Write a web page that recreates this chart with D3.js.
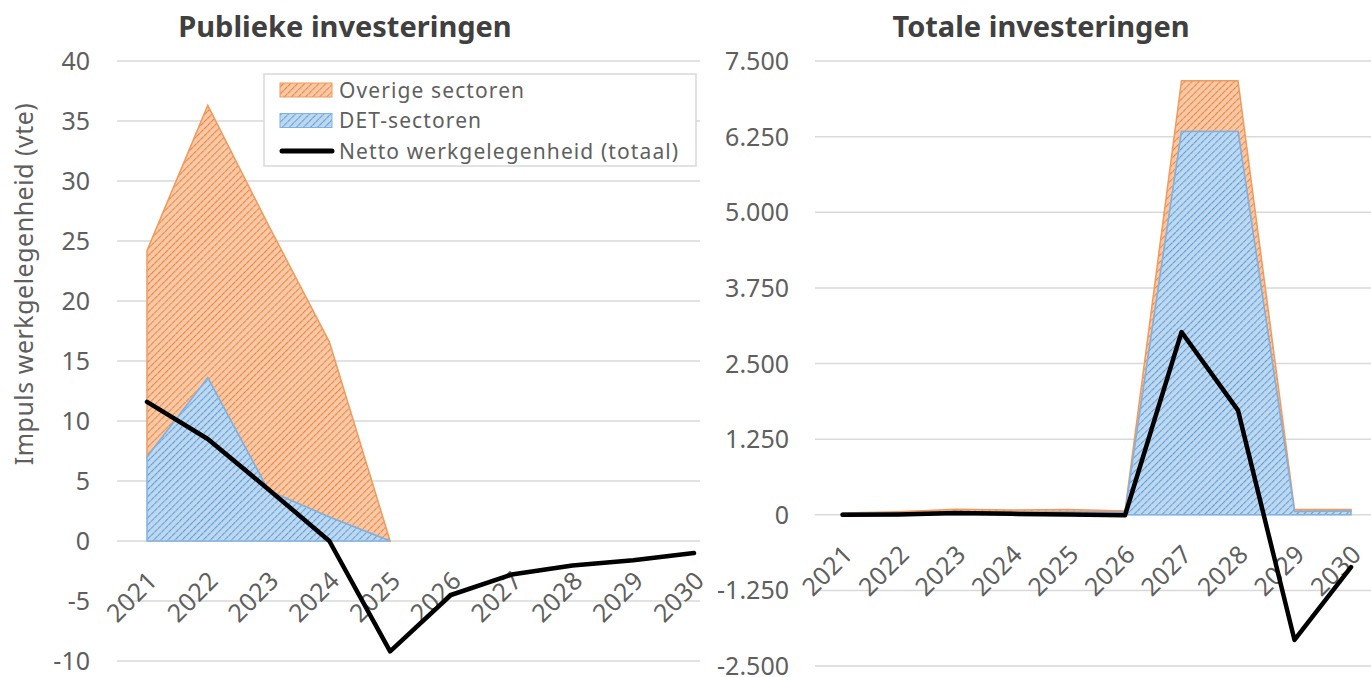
<!DOCTYPE html>
<html>
<head>
<meta charset="utf-8">
<script src="https://cdn.jsdelivr.net/npm/d3@7"></script>
<style>
  body { margin: 0; background: #fff; }
  svg { display: block; font-family: "Noto Sans", sans-serif; }
</style>
</head>
<body>
<svg id="chart" width="1371" height="677"></svg>
<script>
// categories
const years = ['2021', '2022', '2023', '2024', '2025', '2026', '2027', '2028', '2029', '2030'];

// Publieke investeringen (vte)
const pubDet    = [7.0, 13.6, 4.2, 2.0, 0, null, null, null, null, null];
const pubOverig = [17.2, 22.7, 22.1, 14.6, 0, null, null, null, null, null];
const pubNetto  = [11.6, 8.5, 4.3, 0.0, -9.2, -4.5, -2.8, -2.05, -1.6, -1.0];

// Totale investeringen (vte)
const totDet    = [20, 30, 50, 40, 45, 40, 6335, 6335, 55, 60];
const totOverig = [10, 20, 40, 40, 40, 20, 840, 840, 30, 25];
const totNetto  = [0, 5, 30, 15, 5, -10, 3020, 1725, -2070, -865];

// tick values
const pubTicks = [-10, -5, 0, 5, 10, 15, 20, 25, 30, 35, 40];
const totTicks = [-2500, -1250, 0, 1250, 2500, 3750, 5000, 6250, 7500];

const legendItems = ['Overige sectoren', 'DET-sectoren', 'Netto werkgelegenheid (totaal)'];

const nl = d3.formatLocale({ decimal: ',', thousands: '.', grouping: [3], currency: ['€', ''], minus: '-' });
const fmt = nl.format(',d');

const svg = d3.select('#chart');
const labelColor = '#5f5f5f';
const gridColor = '#d9d9d9';

// hatched fills, like the excel "wide upward diagonal" pattern
const defs = svg.append('defs');
function hatch(id, bg, fg) {
    const p = defs.append('pattern')
        .attr('id', id)
        .attr('patternUnits', 'userSpaceOnUse')
        .attr('width', 5)
        .attr('height', 5)
        .attr('patternTransform', 'rotate(45)');
    p.append('rect').attr('width', 5).attr('height', 5).attr('fill', bg);
    p.append('line')
        .attr('x1', 0).attr('y1', 0).attr('x2', 0).attr('y2', 5)
        .attr('stroke', fg)
        .attr('stroke-width', 2.2)
        .attr('stroke-dasharray', '2.2 0.6');
}
hatch('hatch-orange', '#f8c9a6', '#ec8540');
hatch('hatch-blue', '#bed8f0', '#5f9fd8');

function drawPanel(cfg) {
    const g = svg.append('g');
    const x = d3.scalePoint().domain(years).range(cfg.xRange);
    const y = d3.scaleLinear().domain(cfg.yDomain).range(cfg.yRange);

    // gridlines
    g.selectAll('.grid').data(cfg.ticks).join('line')
        .attr('x1', cfg.gridX[0]).attr('x2', cfg.gridX[1])
        .attr('y1', d => y(d)).attr('y2', d => y(d))
        .attr('stroke', gridColor)
        .attr('stroke-width', 1.5);

    // y tick labels
    g.selectAll('.ytick').data(cfg.ticks).join('text')
        .attr('x', cfg.labelX)
        .attr('y', d => y(d))
        .attr('dy', '0.36em')
        .attr('text-anchor', 'end')
        .attr('fill', labelColor)
        .style('font-size', '25px')
        .text(d => fmt(d));

    // stacked areas
    const rows = years.map((yr, i) => ({ year: yr, det: cfg.det[i], overig: cfg.overig[i] }));
    const area0 = d3.area()
        .defined(d => d.det != null)
        .x(d => x(d.year))
        .y0(y(0))
        .y1(d => y(d.det));
    const area1 = d3.area()
        .defined(d => d.det != null)
        .x(d => x(d.year))
        .y0(d => y(d.det))
        .y1(d => y(d.det + d.overig));

    g.append('path').datum(rows)
        .attr('d', area1)
        .attr('fill', 'url(#hatch-orange)')
        .attr('stroke', '#f09a5f')
        .attr('stroke-width', 1.5);
    g.append('path').datum(rows)
        .attr('d', area0)
        .attr('fill', 'url(#hatch-blue)')
        .attr('stroke', '#7fb2e2')
        .attr('stroke-width', 1.5);

    // category labels, rotated
    g.selectAll('.xtick').data(years).join('text')
        .attr('transform', d => `translate(${x(d) + 12},${y(0) + 41}) rotate(-45)`)
        .attr('text-anchor', 'end')
        .attr('fill', labelColor)
        .style('font-size', '25px')
        .style('letter-spacing', '0.5px')
        .text(d => d);

    // netto line
    const line = d3.line()
        .x((d, i) => x(years[i]))
        .y(d => y(d));
    g.append('path').datum(cfg.netto)
        .attr('d', line)
        .attr('fill', 'none')
        .attr('stroke', '#000')
        .attr('stroke-width', 4.5)
        .attr('stroke-linejoin', 'round')
        .attr('stroke-linecap', 'round');

    // title
    g.append('text')
        .attr('x', cfg.titleX)
        .attr('y', 37)
        .attr('text-anchor', 'middle')
        .attr('fill', '#404040')
        .style('font-size', '29px')
        .style('font-weight', 700)
        .text(cfg.title);

    return g;
}

drawPanel({
    title: 'Publieke investeringen',
    titleX: 345,
    det: pubDet, overig: pubOverig, netto: pubNetto,
    ticks: pubTicks,
    yDomain: [-10, 40], yRange: [661, 61],
    xRange: [147, 694],
    gridX: [117, 700],
    labelX: 90
});

drawPanel({
    title: 'Totale investeringen',
    titleX: 1041,
    det: totDet, overig: totOverig, netto: totNetto,
    ticks: totTicks,
    yDomain: [-2500, 7500], yRange: [666, 61],
    xRange: [842.5, 1351],
    gridX: [815, 1371],
    labelX: 789
});

// y axis title
svg.append('text')
    .attr('transform', 'translate(33,284) rotate(-90)')
    .attr('text-anchor', 'middle')
    .attr('fill', labelColor)
    .style('font-size', '25px')
    .style('letter-spacing', '0.5px')
    .text('Impuls werkgelegenheid (vte)');

// legend
const legend = svg.append('g').attr('transform', 'translate(264,74)');
legend.append('rect')
    .attr('width', 432).attr('height', 92)
    .attr('fill', '#fff')
    .attr('stroke', gridColor)
    .attr('stroke-width', 1.5);
const rowY = d3.scalePoint().domain(legendItems).range([16, 77]);
legend.append('rect')
    .attr('x', 16).attr('y', rowY(legendItems[0]) - 7)
    .attr('width', 52).attr('height', 14)
    .attr('fill', 'url(#hatch-orange)').attr('stroke', '#f09a5f');
legend.append('rect')
    .attr('x', 16).attr('y', rowY(legendItems[1]) - 7)
    .attr('width', 52).attr('height', 14)
    .attr('fill', 'url(#hatch-blue)').attr('stroke', '#7fb2e2');
legend.append('line')
    .attr('x1', 18).attr('x2', 68)
    .attr('y1', rowY(legendItems[2])).attr('y2', rowY(legendItems[2]))
    .attr('stroke', '#000').attr('stroke-width', 5)
    .attr('stroke-linecap', 'round');
legend.selectAll('.ltext').data(legendItems).join('text')
    .attr('x', 75)
    .attr('y', d => rowY(d))
    .attr('dy', '0.36em')
    .attr('fill', labelColor)
    .style('font-size', '21px')
    .style('letter-spacing', '1.1px')
    .text(d => d);
</script>
</body>
</html>
